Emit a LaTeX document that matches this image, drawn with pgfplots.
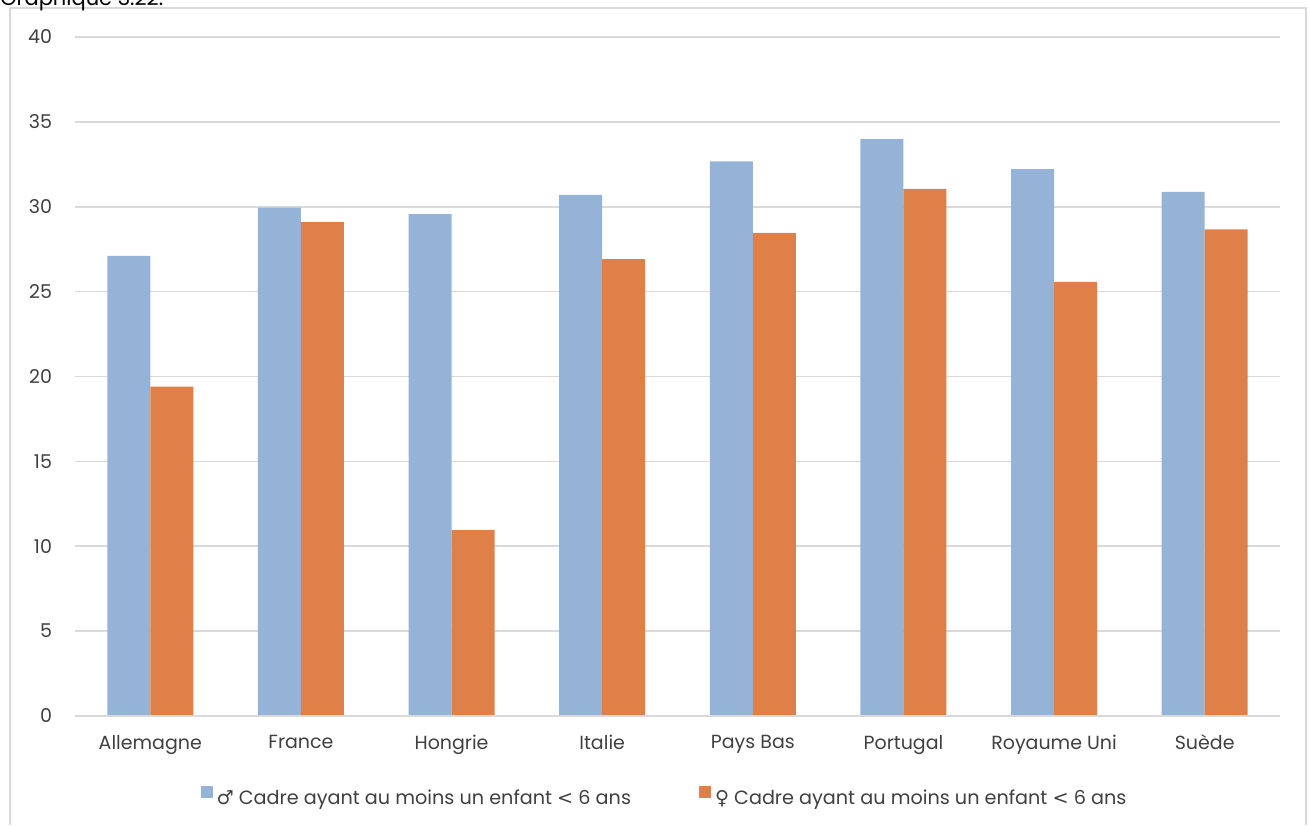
\documentclass[border=0pt]{standalone}
\usepackage{fontspec}
\setmainfont{Poppins}
\newfontfamily\symfont{DejaVu Sans}
\usepackage{pgfplots}
\pgfplotsset{compat=1.18}
\definecolor{cblue}{HTML}{95B3D7}
\definecolor{corange}{HTML}{DF8049}
\definecolor{tgray}{HTML}{404040}
\definecolor{ggray}{HTML}{D9D9D9}
\begin{document}
\begin{tikzpicture}
\useasboundingbox (0,0) rectangle (654.5pt,412.5pt);
\draw[color=ggray,line width=1pt] (5pt,0) -- (5pt,408.5pt) -- (653pt,408.5pt) -- (653pt,0);
\node[anchor=base west,font=\fontsize{10.5pt}{12pt}\selectfont,text=black,inner sep=0pt] at (0,409.5pt) {Graphique 3.22.};
\begin{axis}[
  at={(37.5pt,54.5pt)}, anchor=south west,
  scale only axis, width=602.5pt, height=339.5pt,
  ymin=0, ymax=40, ytick={0,5,...,40},
  xmin=-0.5, xmax=7.5,
  xtick=data,
  xticklabels={Allemagne,France,Hongrie,Italie,Pays Bas,Portugal,Royaume Uni,Suède},
  ybar, bar width=21.5pt,
  axis line style={draw=none},
  ymajorgrids, grid style={color=ggray,line width=0.8pt},
  major tick length=0pt,
  tick label style={font=\fontsize{9.5pt}{11pt}\selectfont,text=tgray},
  /pgf/number format/assume math mode=true,
  yticklabel style={xshift=-8pt},
  xticklabel style={yshift=-6pt},
  legend style={draw=none, at={(0.49,-0.122)}, anchor=center, legend columns=2,
    font=\fontsize{9.6pt}{11pt}\selectfont, text=tgray,
    /tikz/every even column/.append style={column sep=32pt}},
  legend image code/.code={\fill[#1] (0pt,0.5pt) rectangle (6pt,6.5pt);},
]
\addplot[fill=cblue,draw=none,bar shift=-10.75pt] coordinates {(0,27.1) (1,29.95) (2,29.57) (3,30.7) (4,32.68) (5,33.98) (6,32.22) (7,30.87)};
\addplot[fill=corange,draw=none,bar shift=10.75pt] coordinates {(0,19.4) (1,29.1) (2,10.95) (3,26.92) (4,28.46) (5,31.05) (6,25.57) (7,28.67)};
\draw[color=ggray,line width=1pt] (axis cs:-0.5,0) -- (axis cs:7.5,0);
\legend{{\symfont ♂} Cadre ayant au moins un enfant {\symfont <} 6 ans,{\symfont ♀} Cadre ayant au moins un enfant {\symfont <} 6 ans}
\end{axis}
\end{tikzpicture}
\end{document}
